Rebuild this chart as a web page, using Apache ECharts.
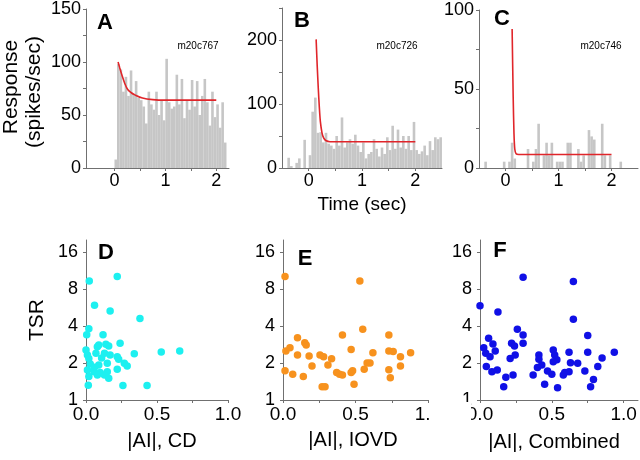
<!DOCTYPE html>
<html><head><meta charset="utf-8">
<script src="https://cdn.jsdelivr.net/npm/echarts@6/dist/echarts.min.js"></script>
<style>html,body{margin:0;padding:0;background:#fff}#c{width:640px;height:460px}</style>
</head><body><div id="c"></div>
<script>
// ---------- data ----------
const binWidth = 0.05;
// PSTH bar heights (spikes/sec); first bin centre given separately
const histAStart = 0.025;
const histA = [8,98,93,72,86,68,92,70,82,66,64,58,42,72,60,55,72,50,64,45,103,62,56,58,88,60,84,47,64,55,83,58,82,50,68,84,62,40,72,48,60,38,62,24];
const histBStart = -0.375;
const histB = [16,3,0,8,15,0,44,0,20,88,110,55,56,40,55,38,35,30,50,35,79,32,40,45,38,52,35,25,40,15,22,25,45,30,18,32,22,48,28,66,30,60,32,50,30,50,28,72,28,22,26,35,20,42,28,48,45,48];
const histCStart = -0.375;
const histC = [4,0,0,0,0,0,0,4,0,4,16,6,0,0,0,0,12,0,4,12,28,0,8,16,8,16,0,4,4,4,0,16,16,0,0,12,4,8,0,24,20,18,0,0,28,8,0,8,0,0,0,4];
// fitted curves [time, rate]
const fitA = [[0.07,100],[0.1,95],[0.15,87],[0.2,80],[0.26,74],[0.33,71],[0.4,69],[0.55,66],[0.75,64.5],[1.0,64],[2.0,64]];
const fitB = [[0.14,201],[0.16,160],[0.18,125],[0.2,95],[0.22,72],[0.25,55],[0.28,47],[0.32,43],[0.4,41],[2.0,41]];
const fitC = [[0.125,88],[0.145,45],[0.16,22],[0.175,12],[0.2,9],[0.25,8.5],[2.0,8.5]];
// scatter [|AI|, TSR]
const scatterCD = [[0.023,9.3],[0.22,10.1],[0.06,5.9],[0.17,5.3],[0.38,4.6],[0.02,3.8],[0.005,3.4],[0.12,3.4],[0.24,2.9],[0.53,2.46],[0.66,2.5],[0.34,2.38],[0.016,1.32],[0.26,1.31],[0.43,1.31],[0.08,2.71],[0.09,2.8],[0.14,2.84],[0.16,2.75],[0.07,2.4],[0.13,2.4],[0.17,2.32],[0.22,2.25],[0.01,2.32],[0.02,2.18],[0.03,1.96],[0.09,1.93],[0.15,1.99],[0.23,2.14],[0.27,1.99],[0.29,1.89],[0.01,1.75],[0.056,1.7],[0.10,1.67],[0.15,1.7],[0.22,1.78],[0.02,1.55],[0.08,1.6],[0.13,1.6],[0.16,1.5],[0.0,2.55],[0.11,2.2],[0.06,1.85]];
const scatterIOVD = [[0.014,10.1],[0.53,9.3],[0.55,3.76],[0.41,3.38],[0.73,3.38],[0.10,3.21],[0.15,2.92],[0.16,2.8],[0.02,2.5],[0.048,2.66],[0.47,2.58],[0.10,2.32],[0.18,2.28],[0.255,2.32],[0.28,2.25],[0.335,2.16],[0.31,1.93],[0.62,2.42],[0.73,2.5],[0.76,2.48],[0.81,2.25],[0.88,2.42],[0.58,2.0],[0.60,2.0],[0.20,1.89],[0.81,1.89],[0.014,1.73],[0.067,1.62],[0.14,1.55],[0.37,1.67],[0.39,1.62],[0.41,1.6],[0.47,1.67],[0.48,1.73],[0.56,1.78],[0.73,1.76],[0.74,1.52],[0.49,1.34],[0.27,1.28],[0.29,1.28]];
const scatterComb = [[0.0,5.85],[0.125,5.2],[0.30,9.97],[0.65,9.2],[0.65,4.53],[0.26,3.76],[0.30,3.38],[0.75,3.34],[0.06,3.18],[0.09,2.85],[0.026,2.66],[0.22,2.89],[0.24,2.75],[0.30,2.89],[0.04,2.4],[0.106,2.5],[0.07,2.25],[0.21,2.18],[0.245,2.32],[0.51,2.55],[0.41,2.32],[0.41,2.14],[0.52,2.32],[0.535,2.12],[0.51,2.05],[0.62,2.44],[0.63,2.01],[0.68,1.99],[0.75,2.44],[0.85,2.2],[0.935,2.44],[0.044,1.87],[0.083,1.7],[0.12,1.75],[0.40,1.84],[0.43,1.93],[0.47,1.72],[0.50,1.62],[0.37,1.6],[0.58,1.6],[0.59,1.67],[0.62,1.7],[0.73,1.72],[0.82,1.87],[0.79,1.47],[0.77,1.28],[0.18,1.53],[0.23,1.6],[0.165,1.28],[0.45,1.34],[0.54,1.26]];
// ticks
const timeLabels = [0,1,2];
const timeTicks = [0,0.5,1,1.5,2];
const rateLabelsA = [0,50,100,150], rateTicksA = [0,25,50,75,100,125,150];
const rateLabelsB = [0,100,200], rateTicksB = [0,50,100,150,200,250];
const rateLabelsC = [0,50,100], rateTicksC = [0,25,50,75,100];
const tsrLabels = [1,2,4,8,16];
const aiLabels = [0,0.5,1.0], aiTicks = [0,0.25,0.5,0.75,1.0];

// ---------- chart ----------
const FONT = 'Arial, "Liberation Sans", sans-serif';
const AX = '#707070';
const toPairs = (start, arr) => arr.map((v, i) => [start + i * binWidth, v]);

function axis(gi, o) {
  return Object.assign({
    gridIndex: gi, type: 'value',
    axisLine: { show: true, onZero: false, lineStyle: { color: AX, width: 1 } },
    axisTick: { show: true, length: 3, lineStyle: { color: AX } },
    splitLine: { show: false },
  }, o);
}
function lbl(values, size, margin, fmt) {
  const l = { customValues: values, color: '#000', fontFamily: FONT, fontSize: size, margin: margin, showMinLabel: true, showMaxLabel: true };
  if (fmt) l.formatter = fmt;
  return l;
}
function tick(values) { return { show: true, length: 3, lineStyle: { color: AX }, customValues: values }; }

const chart = echarts.init(document.getElementById('c'), null, { renderer: 'canvas' });
const grids = [
  { left: 86, top: 8, width: 143, height: 160 },
  { left: 282, top: 8, width: 160, height: 160 },
  { left: 479, top: 10, width: 159, height: 158 },
  { left: 86, top: 240, width: 142, height: 160 },
  { left: 283, top: 240, width: 145, height: 160 },
  { left: 480, top: 240, width: 158, height: 160 },
];
const xAxes = [
  axis(0, { min: -0.56, max: 2.25, axisLabel: lbl(timeLabels, 18, 4), axisTick: tick(timeTicks) }),
  axis(1, { min: -0.5, max: 2.5, axisLabel: lbl(timeLabels, 18, 4), axisTick: tick(timeTicks) }),
  axis(2, { min: -0.5, max: 2.5, axisLabel: lbl(timeLabels, 18, 4), axisTick: tick(timeTicks) }),
  axis(3, { min: 0, max: 1.0, axisLabel: lbl(aiLabels, 19, 5, v => v.toFixed(1)), axisTick: tick(aiTicks) }),
  axis(4, { min: 0, max: 1.0, axisLabel: lbl(aiLabels, 19, 5, v => v.toFixed(1)), axisTick: tick(aiTicks) }),
  axis(5, { min: 0, max: 1.1, axisLabel: lbl(aiLabels, 19, 5, v => v.toFixed(1)), axisTick: tick(aiTicks) }),
];
const yAxes = [
  axis(0, { min: 0, max: 150, axisLabel: lbl(rateLabelsA, 18, 5), axisTick: tick(rateTicksA) }),
  axis(1, { min: 0, max: 250, axisLabel: lbl(rateLabelsB, 18, 5), axisTick: tick(rateTicksB) }),
  axis(2, { min: 0, max: 100, axisLabel: lbl(rateLabelsC, 18, 5), axisTick: tick(rateTicksC) }),
  axis(3, { type: 'log', logBase: 2, min: 1, max: 20, axisLabel: lbl(tsrLabels, 18, 8), axisTick: tick(tsrLabels) }),
  axis(4, { type: 'log', logBase: 2, min: 1, max: 20, axisLabel: lbl(tsrLabels, 18, 8), axisTick: tick(tsrLabels) }),
  axis(5, { type: 'log', logBase: 2, min: 1, max: 20, axisLabel: lbl(tsrLabels, 18, 8), axisTick: tick(tsrLabels) }),
];
const barStyle = { color: '#c6c6c6' };
const bar = (i, d) => ({ type: 'bar', xAxisIndex: i, yAxisIndex: i, data: d, barWidth: 2.6, itemStyle: barStyle, silent: true, animation: false });
const fit = (i, d) => ({ type: 'line', xAxisIndex: i, yAxisIndex: i, data: d, smooth: 0.3, showSymbol: false, lineStyle: { color: '#e0252a', width: 1.6 }, z: 5, animation: false });
const sc = (i, d, c) => ({ type: 'scatter', xAxisIndex: i, yAxisIndex: i, data: d, symbolSize: 7.5, itemStyle: { color: c, opacity: 1 }, animation: false });

const txt = (x, y, s, size, weight, rot) => ({
  type: 'text', x: x, y: y, rotation: rot || 0, z: 50,
  style: { text: s, fill: '#000', font: (weight || 'normal') + ' ' + size + 'px ' + FONT, textAlign: 'center', textVerticalAlign: 'middle' }
});

chart.setOption({
  animation: false,
  grid: grids, xAxis: xAxes, yAxis: yAxes,
  series: [
    bar(0, toPairs(histAStart, histA)), bar(1, toPairs(histBStart, histB)), bar(2, toPairs(histCStart, histC)),
    fit(0, fitA), fit(1, fitB), fit(2, fitC),
    sc(3, scatterCD, '#1df0f0'), sc(4, scatterIOVD, '#f7921e'), sc(5, scatterComb, '#1010e6'),
  ],
  graphic: [
    { type: 'rect', shape: { x: 431, y: 402, width: 40, height: 24 }, style: { fill: '#fff' }, z: 40 },
    txt(11, 87, 'Response', 21, 'normal', Math.PI / 2),
    txt(34, 92, '(spikes/sec)', 21, 'normal', Math.PI / 2),
    txt(362, 205, 'Time (sec)', 19),
    txt(37, 320, 'TSR', 21, 'normal', Math.PI / 2),
    txt(162, 441, '|AI|, CD', 20),
    txt(353, 440, '|AI|, IOVD', 20),
    txt(554, 442, '|AI|, Combined', 20),
    txt(105, 23, 'A', 22, 'bold'), txt(302, 21, 'B', 22, 'bold'), txt(502, 19, 'C', 22, 'bold'),
    txt(106, 253, 'D', 22, 'bold'), txt(305, 259, 'E', 22, 'bold'), txt(500, 251, 'F', 22, 'bold'),
    txt(198, 46, 'm20c767', 10), txt(397, 46, 'm20c726', 10), txt(601, 46, 'm20c746', 10),
  ]
});
</script>
</body></html>
